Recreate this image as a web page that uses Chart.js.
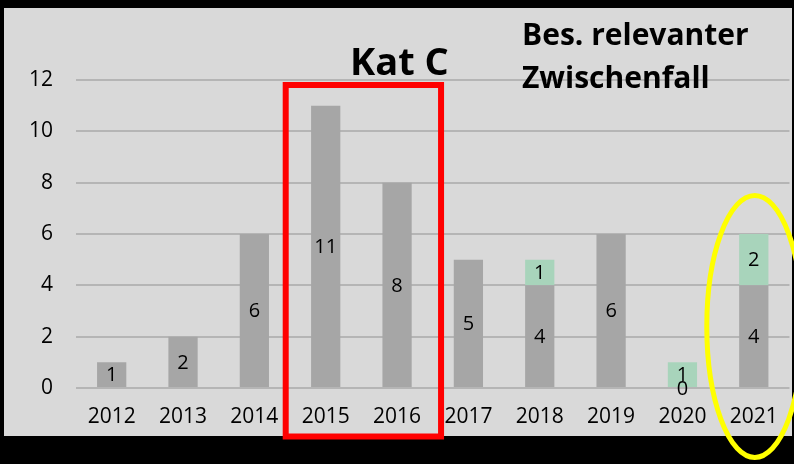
<!DOCTYPE html>
<html lang="de">
<head>
  <meta charset="UTF-8" />
  <title>Bes. relevanter Zwischenfall</title>
  <script src="https://cdn.jsdelivr.net/npm/chart.js"></script>
  <style>
    html, body {
      margin: 0;
      padding: 0;
      background: #000;
    }

    #wrap {
      position: relative;
      width: 794px;
      height: 464px;
    }

    .note {
      position: absolute;
      font-family: "Open Sans", sans-serif;
      font-weight: bold;
      color: #000;
      white-space: nowrap;
    }

    #katc {
      left: 350px;
      top: 41px;
      font-size: 38px;
      line-height: 38px;
    }

    #bes {
      left: 522px;
      top: 12px;
      font-size: 30px;
      line-height: 43px;
    }
  </style>
</head>
<body>
  <div id="wrap">
    <canvas id="chart" width="794" height="464"></canvas>
    <div class="note" id="katc">Kat C</div>
    <div class="note" id="bes">Bes. relevanter<br>Zwischenfall</div>
  </div>

  <script>
    const years = ['2012', '2013', '2014', '2015', '2016', '2017', '2018', '2019', '2020', '2021'];
    const katC = [1, 2, 6, 11, 8, 5, 4, 6, 0, 4];
    const besRelevant = [0, 0, 0, 0, 0, 0, 1, 0, 1, 2];
    const yTicks = [0, 2, 4, 6, 8, 10, 12];

    // grauer Hintergrund hinter dem Diagramm
    const panel = {
      id: 'panel',
      beforeDraw(chart) {
        const c = chart.ctx;
        c.save();
        c.fillStyle = '#000';
        c.fillRect(0, 0, chart.width, chart.height);
        c.fillStyle = '#d9d9d9';
        c.fillRect(4, 8, 788, 428);
        c.restore();
      }
    };

    // Werte mittig in die Balken schreiben
    const barLabels = {
      id: 'barLabels',
      afterDatasetsDraw(chart) {
        const c = chart.ctx;
        c.save();
        c.font = '20px "Open Sans", sans-serif';
        c.fillStyle = '#000';
        c.textAlign = 'center';
        c.textBaseline = 'middle';
        chart.data.datasets.forEach((ds, i) => {
          chart.getDatasetMeta(i).data.forEach((bar, j) => {
            const v = ds.data[j];
            if (i === 1 && v === 0) return;
            const y = (bar.y + bar.base) / 2;
            c.fillText(String(v), bar.x, y + 1);
          });
        });
        c.restore();
      }
    };

    // roter Rahmen um 2015/2016, gelbe Ellipse um 2021
    const marks = {
      id: 'marks',
      afterDraw(chart) {
        const c = chart.ctx;
        const x = chart.scales.x;
        const y = chart.scales.y;
        c.save();
        c.strokeStyle = '#ff0000';
        c.lineWidth = 6;
        const left = x.getPixelForValue(3) - 40;
        const right = x.getPixelForValue(4) + 44;
        const top = y.getPixelForValue(12) + 5;
        c.strokeRect(left, top, right - left, 436.5 - top);

        c.strokeStyle = '#ffff00';
        c.lineWidth = 5;
        c.beginPath();
        c.ellipse(x.getPixelForValue(9) + 1, y.getPixelForValue(2.4), 48, 131, 0, 0, Math.PI * 2);
        c.stroke();
        c.restore();
      }
    };

    new Chart(document.getElementById('chart'), {
      type: 'bar',
      data: {
        labels: years,
        datasets: [
          {
            label: 'Kat C',
            data: katC,
            backgroundColor: '#a6a6a6',
            barPercentage: 0.41,
            categoryPercentage: 1
          },
          {
            label: 'Bes. relevanter Zwischenfall',
            data: besRelevant,
            backgroundColor: '#a8d4bb',
            barPercentage: 0.41,
            categoryPercentage: 1
          }
        ]
      },
      options: {
        responsive: false,
        animation: false,
        layout: { padding: { left: 0, right: 4, top: 80, bottom: 28 } },
        plugins: {
          legend: { display: false },
          tooltip: { enabled: false }
        },
        scales: {
          x: {
            stacked: true,
            grid: { display: false, drawTicks: false },
            border: { display: false },
            ticks: {
              padding: 16,
              color: '#000',
              font: { family: '"Open Sans", sans-serif', size: 21 },
              maxRotation: 0
            },
            afterFit(axis) { axis.height = 48; }
          },
          y: {
            stacked: true,
            min: 0,
            max: 12,
            afterBuildTicks(axis) { axis.ticks = yTicks.map(v => ({ value: v })); },
            grid: { color: '#b5b5b5', lineWidth: 2, drawTicks: false },
            border: { display: false },
            ticks: {
              padding: 23,
              color: '#000',
              font: { family: '"Open Sans", sans-serif', size: 21 }
            },
            afterFit(axis) { axis.width = 76; }
          }
        }
      },
      plugins: [panel, barLabels, marks]
    });
  </script>
</body>
</html>
